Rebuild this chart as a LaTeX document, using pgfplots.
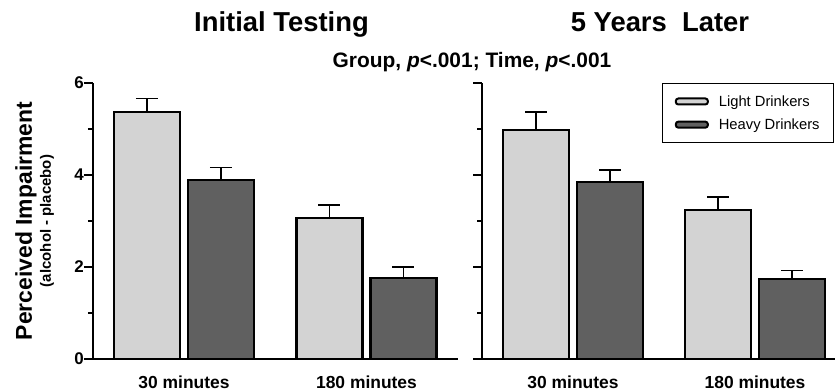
\documentclass[border=0pt]{standalone}
\usepackage{pgfplots}
\pgfplotsset{compat=1.18}
\usepackage{fontspec}
\setmainfont{Liberation Sans}
\definecolor{lightbar}{HTML}{D3D3D3}
\definecolor{darkbar}{HTML}{606060}
\pgfplotsset{
  panel/.style={
    scale only axis, height=276bp, ymin=0, ymax=6,
    axis x line*=bottom, axis y line*=left,
    axis line style={line width=2.3bp, -},
    ytick={0,2,4,6}, minor ytick={1,3,5},
    tick align=outside, ytick pos=left,
    major tick length=9bp, minor tick length=5bp,
    every tick/.style={black, line width=2bp},
    xtick={0,1}, xticklabels={30 minutes,180 minutes},
    xtick style={draw=none},
    xticklabel style={font=\fontsize{17.5}{19}\selectfont\bfseries, anchor=base, inner sep=0pt, yshift=-20bp},
    yticklabel style={font=\fontsize{17}{18}\selectfont\bfseries, anchor=east, inner sep=0pt, xshift=0bp},
    ybar=8bp, bar width=66bp, clip=false, enlargelimits=false,
    every axis plot/.append style={draw=black, line width=2.3bp},
    error bars/y dir=plus, error bars/y explicit,
    error bars/error bar style={line width=1.3bp, black},
    error bars/error mark options={rotate=90, line width=1.3bp, black, mark size=11bp},
  },
  legimg/.style={legend image code/.code={\draw[##1, rounded corners=2.5bp, line width=2bp] (0bp,-3bp) rectangle (32bp,3bp);}},
}
\begin{document}
\begin{tikzpicture}
\useasboundingbox (0,0) rectangle (835bp,391bp);
% Left panel: Initial Testing
\begin{axis}[panel, at={(93bp,32bp)}, anchor=south west, width=365bp,
  xmin=-0.4986, xmax=1.5014, yticklabels={0,2,4,6}]
\addplot[fill=lightbar, legimg] coordinates {(0,5.37) +- (0,0.30) (1,3.07) +- (0,0.28)};
\addplot[fill=darkbar, legimg] coordinates {(0,3.89) +- (0,0.28) (1,1.76) +- (0,0.24)};
\node[xshift=-61bp, rotate=90, anchor=base, font=\fontsize{23}{24}\selectfont\bfseries] at (rel axis cs:0,0.5) {Perceived Impairment};
\node[xshift=-42bp, rotate=90, anchor=base, font=\fontsize{15}{16}\selectfont\bfseries] at (rel axis cs:0,0.5) {(alcohol - placebo)};
\end{axis}
% Right panel: 5 Years Later
\begin{axis}[panel, at={(482bp,32bp)}, anchor=south west, width=353bp,
  xmin=-0.5, xmax=1.4396, yticklabels={},
  legend style={at={(rel axis cs:1,1)}, anchor=north east, xshift=-1bp, draw=black, line width=0.8bp,
    font=\fontsize{14.8}{16}\selectfont, inner xsep=12bp, inner ysep=10bp, row sep=7bp,
    /tikz/every even column/.append style={column sep=6bp}},
  legend cell align=left]
\addplot[fill=lightbar, legimg] coordinates {(0,4.98) +- (0,0.39) (1,3.24) +- (0,0.28)};
\addplot[fill=darkbar, legimg] coordinates {(0,3.85) +- (0,0.26) (1,1.74) +- (0,0.19)};
\legend{\hspace{8bp}Light Drinkers, \hspace{8bp}Heavy Drinkers}
\end{axis}
\node[anchor=base, font=\fontsize{27.5}{29}\selectfont\bfseries] at (281.5bp,359bp) {Initial Testing};
\node[anchor=base, font=\fontsize{27.5}{29}\selectfont\bfseries] at (660bp,359bp) {5 Years\ \ Later};
\node[anchor=base, font=\fontsize{21}{22}\selectfont\bfseries] at (472bp,323bp) {Group, \textit{p}<.001; Time, \textit{p}<.001};
\end{tikzpicture}
\end{document}
